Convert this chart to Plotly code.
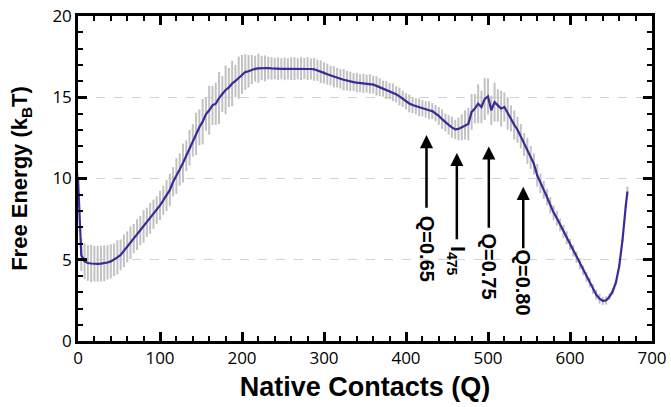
import plotly.graph_objects as go

# Native contacts sampled every 4 (plus the last point)
Q = list(range(0, 669, 4)) + [670]

# Free energy (kBT)
F = [
    10.0, 5.3, 4.9, 4.8, 4.77, 4.75, 4.75, 4.76, 4.78, 4.83,
    4.9, 5.0, 5.15, 5.3, 5.55, 5.8, 6.05, 6.3, 6.55, 6.8,
    7.05, 7.3, 7.55, 7.8, 8.05, 8.35, 8.65, 8.95, 9.3, 9.8,
    10.15, 10.55, 10.95, 11.4, 11.9, 12.35, 12.75, 13.15, 13.5, 13.95,
    14.2, 14.5, 14.6, 14.95, 15.2, 15.45, 15.6, 15.85, 16.0, 16.2,
    16.4, 16.55, 16.6, 16.7, 16.75, 16.78, 16.8, 16.78, 16.8, 16.78,
    16.76, 16.76, 16.75, 16.75, 16.75, 16.76, 16.76, 16.76, 16.77, 16.77,
    16.76, 16.74, 16.72, 16.66, 16.58, 16.5, 16.42, 16.34, 16.26, 16.2,
    16.14, 16.08, 16.02, 15.97, 15.93, 15.9, 15.87, 15.85, 15.84, 15.82,
    15.78, 15.7, 15.62, 15.53, 15.45, 15.38, 15.3, 15.18, 15.05, 14.9,
    14.75, 14.62, 14.52, 14.45, 14.38, 14.32, 14.25, 14.2, 14.15, 14.02,
    13.85, 13.65, 13.45, 13.3, 13.15, 13.02, 13.05, 13.15, 13.3, 13.35,
    14.1, 14.3, 14.6, 14.4, 14.9, 15.05, 14.2, 14.7, 14.5, 14.3,
    14.4, 14.0, 13.7, 13.3, 13.0, 12.6, 12.1, 11.7, 11.3, 10.9,
    10.2, 9.7, 9.3, 8.85, 8.35, 7.9, 7.55, 7.15, 6.75, 6.35,
    5.95, 5.55, 5.15, 4.75, 4.35, 3.95, 3.6, 3.2, 2.85, 2.6,
    2.47, 2.5, 2.72, 3.05, 3.6, 4.6, 6.2, 8.3,
    9.2,
]

# Error bar half-widths (kBT)
E = [
    0.3, 1.0, 1.1, 1.1, 1.15, 1.1, 1.1, 1.1, 1.1, 1.05, 1.05,
    1.0, 1.05, 0.95, 1.0, 0.95, 1.0, 0.9, 0.95, 0.9, 1.0, 0.9, 0.95, 0.9, 0.85, 0.9,
    0.9, 0.95, 1.0, 0.9, 1.1, 1.0, 1.2, 0.95, 1.1, 1.0, 1.3, 1.1,
    1.4, 1.0, 1.5, 1.2, 1.3, 1.6, 1.1, 1.5, 1.2, 1.4, 1.0, 1.3, 1.2, 1.1, 1.0, 0.9, 0.8, 0.9, 0.75, 0.8, 0.7,
    0.7, 0.65, 0.7, 0.65, 0.7, 0.65, 0.7, 0.7, 0.65, 0.7, 0.65, 0.7, 0.65, 0.7, 0.65, 0.7, 0.65,
    0.65, 0.6, 0.65, 0.6, 0.6, 0.65, 0.6, 0.6, 0.55, 0.6, 0.55, 0.6, 0.55, 0.6, 0.55, 0.6, 0.55, 0.5, 0.55, 0.5, 0.55, 0.5, 0.55, 0.5,
    0.5, 0.55, 0.5, 0.5, 0.55, 0.5, 0.5, 0.55, 0.5, 0.5, 0.55, 0.6, 0.55, 0.6, 0.65,
    0.6, 0.7, 0.8, 0.9, 1.0, 1.1, 0.9, 1.2, 1.0, 1.3, 1.1, 0.9, 1.2, 1.0, 1.1, 0.9, 1.0, 0.8, 0.9, 0.8, 0.75,
    0.7, 0.8, 0.7, 0.65, 0.7, 0.6, 0.55, 0.5, 0.5, 0.45, 0.45, 0.4, 0.4, 0.4, 0.35, 0.35,
    0.35, 0.35, 0.3, 0.3, 0.3, 0.3, 0.3, 0.3, 0.25, 0.25, 0.2, 0.2, 0.15, 0.12, 0.1, 0.1,
    0.3,
]

# Annotated arrows: label, x position, arrow head y, label centre y
ARROW_LABELS = ["Q=0.65", "I<sub>475</sub>", "Q=0.75", "Q=0.80"]
ARROW_X = [425, 462, 501, 543]
ARROW_HEAD = [12.67, 11.57, 11.97, 9.49]
LABEL_Y = [5.71, 4.91, 4.6, 3.59]
LABEL_GAP = [7, 7, 5, 1]

LINE_COLOR = "#3b2a96"
BOLD = "Liberation Sans, Arial, sans-serif"

fig = go.Figure()
fig.add_trace(go.Scatter(
    x=Q, y=F, mode="markers",
    marker=dict(size=1, opacity=0, color="#b0b0b0"),
    error_y=dict(type="data", array=E, symmetric=True,
                 color="#c2c2c2", thickness=2, width=0),
    hoverinfo="skip", showlegend=False,
))
fig.add_trace(go.Scatter(
    x=Q, y=F, mode="lines",
    line=dict(color=LINE_COLOR, width=2.2),
    showlegend=False,
))

annotations = []
for lab, x, yh, ly, gap in zip(ARROW_LABELS, ARROW_X, ARROW_HEAD, LABEL_Y, LABEL_GAP):
    annotations.append(dict(
        x=x, y=yh, ax=x, ay=ly, xref="x", yref="y", axref="x", ayref="y",
        text="<b>" + lab + "</b>", textangle=90,
        font=dict(family=BOLD, size=20, color="black"),
        showarrow=True, arrowhead=2, arrowsize=1.05, arrowwidth=2.5,
        arrowcolor="black", standoff=0, startstandoff=gap, borderpad=0,
    ))

axis_common = dict(
    showline=True, linewidth=2.5, linecolor="black", mirror="ticks",
    ticks="inside", ticklen=9, tickwidth=2.5, tickcolor="black",
    zeroline=False, automargin=False,
    tickfont=dict(family="Open Sans, sans-serif", size=17, color="black"),
)

fig.update_layout(
    width=671, height=407,
    margin=dict(l=78, r=19, t=16, b=66),
    paper_bgcolor="white", plot_bgcolor="white",
    xaxis=dict(
        range=[0, 700], tick0=0, dtick=100, showgrid=False,
        minor=dict(dtick=20, ticks="inside", ticklen=5, tickwidth=2, tickcolor="black"),
        title=dict(text="<b>Native Contacts (Q)</b>", standoff=9,
                   font=dict(family=BOLD, size=27, color="black")),
        **axis_common,
    ),
    yaxis=dict(
        range=[0, 20], tick0=0, dtick=5,
        showgrid=True, gridcolor="#d2d2d2", gridwidth=1, griddash="dash",
        minor=dict(dtick=1, ticks="inside", ticklen=5, tickwidth=2, tickcolor="black", showgrid=False),
        title=dict(text="<b>Free Energy (k<sub>B</sub>T)</b>", standoff=19,
                   font=dict(family=BOLD, size=22, color="black")),
        **axis_common,
    ),
    annotations=annotations,
)

fig.write_html("out.html")
